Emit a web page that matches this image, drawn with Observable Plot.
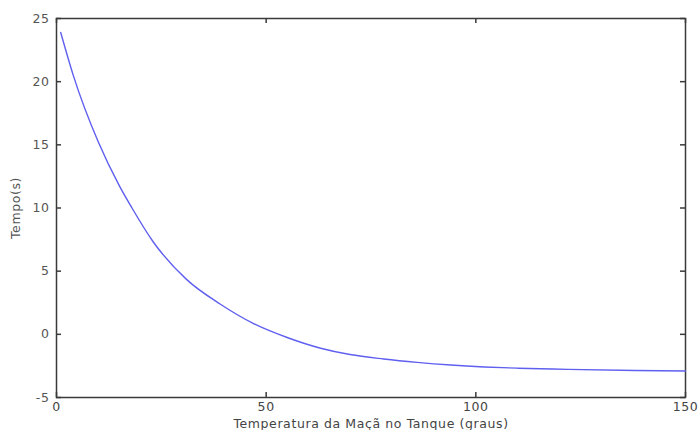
<!DOCTYPE html>
<html>
<head>
<meta charset="utf-8">
<script src="https://cdn.jsdelivr.net/npm/d3@7"></script>
<script src="https://cdn.jsdelivr.net/npm/@observablehq/plot@0.6"></script>
<style>
  html, body { margin: 0; padding: 0; background: #ffffff; }
  #chart { width: 699px; height: 430px; }
  #chart svg text { letter-spacing: 0.6px; }
</style>
</head>
<body>
<div id="chart"></div>
<script>
// Data
const temperatura = [1, 4, 10, 15, 18, 23, 31, 39, 47, 55, 63, 70, 78, 86, 94, 102, 110, 122, 138, 150];
const tempo = [23.9, 20.5, 15.2, 11.75, 10.0, 7.35, 4.35, 2.4, 0.85, -0.25, -1.1, -1.6, -1.95, -2.22, -2.43, -2.58, -2.68, -2.77, -2.86, -2.9];
const xTicks = [0, 50, 100, 150];
const yTicks = [-5, 0, 5, 10, 15, 20, 25];
const xLabel = "Temperatura da Maçã no Tanque (graus)";
const yLabel = "Tempo(s)";

const data = temperatura.map((t, i) => ({x: t, y: tempo[i]}));

const W = 699, H = 430;
const mL = 56, mR = 14, mT = 18, mB = 33;
const pw = W - mL - mR, ph = H - mT - mB;
const tk = 5;
const axisColor = "#3a3a3a";

const chart = Plot.plot({
  width: W,
  height: H,
  marginLeft: mL,
  marginRight: mR,
  marginTop: mT,
  marginBottom: mB,
  style: {fontFamily: "'DejaVu Sans', sans-serif", fontSize: "12.5px", color: "#444", background: "#ffffff"},
  x: {domain: [0, 150], ticks: xTicks},
  y: {domain: [-5, 25], ticks: yTicks},
  marks: [
    Plot.frame({stroke: axisColor, strokeWidth: 1.5}),
    // inward tick marks on all four sides
    Plot.tickY(yTicks, {y: d => d, insetRight: pw - tk, stroke: axisColor, strokeWidth: 1.5}),
    Plot.tickY(yTicks, {y: d => d, insetLeft: pw - tk, stroke: axisColor, strokeWidth: 1.5}),
    Plot.tickX(xTicks, {x: d => d, insetTop: ph - tk, stroke: axisColor, strokeWidth: 1.5}),
    Plot.tickX(xTicks, {x: d => d, insetBottom: ph - tk, stroke: axisColor, strokeWidth: 1.5}),
    Plot.axisY(yTicks, {tickSize: 0, tickPadding: 7, tickFormat: d => String(d), label: yLabel, labelAnchor: "center", labelArrow: "none", labelOffset: 45, fill: "#555"}),
    Plot.axisX(xTicks, {tickSize: 0, tickPadding: 5, tickFormat: d => String(d), label: xLabel, labelAnchor: "center", labelArrow: "none", labelOffset: 30, fill: "#444"}),
    Plot.line(data, {x: "x", y: "y", stroke: "#5f5ff0", strokeWidth: 1.4, curve: "monotone-x"})
  ]
});
document.getElementById("chart").appendChild(chart);
</script>
</body>
</html>
